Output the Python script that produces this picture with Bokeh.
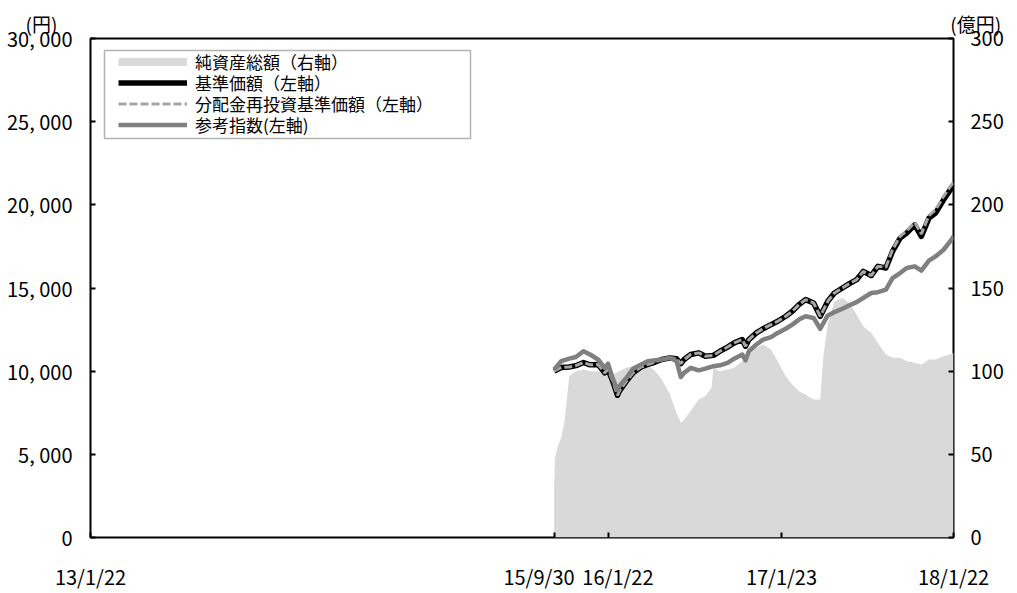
import pandas as pd
from bokeh.plotting import figure
from bokeh.models import (Range1d, LinearAxis, FixedTicker, Legend, LegendItem, BoxAnnotation)
from bokeh.embed import file_html
from bokeh.resources import INLINE

# ---------------- data ----------------
line_dates = [
    "2015-09-30", "2015-10-15", "2015-11-01", "2015-11-15", "2015-12-01", "2015-12-15",
    "2016-01-01", "2016-01-15", "2016-01-22", "2016-02-01", "2016-02-11", "2016-02-15",
    "2016-03-01", "2016-03-15", "2016-04-01", "2016-04-15", "2016-05-01", "2016-05-15",
    "2016-06-01", "2016-06-15", "2016-06-24", "2016-07-01", "2016-07-15", "2016-08-01",
    "2016-08-15", "2016-09-01", "2016-09-15", "2016-10-01", "2016-10-15", "2016-11-01",
    "2016-11-08", "2016-11-15", "2016-12-01", "2016-12-15", "2017-01-01", "2017-01-15",
    "2017-02-01", "2017-02-15", "2017-03-01", "2017-03-15", "2017-04-01", "2017-04-15",
    "2017-05-01", "2017-05-15", "2017-06-01", "2017-06-15", "2017-07-01", "2017-07-15",
    "2017-08-01", "2017-08-15", "2017-09-01", "2017-09-15", "2017-10-01", "2017-10-15",
    "2017-11-01", "2017-11-15", "2017-12-01", "2017-12-15", "2018-01-01", "2018-01-15",
    "2018-01-22",
]
nav = [
    10000, 10220, 10250, 10330, 10520, 10380,
    10400, 9900, 10100, 9400, 8550, 8800,
    9400, 9900, 10250, 10400, 10550, 10700,
    10800, 10750, 10450, 10700, 11000, 11100,
    10900, 10950, 11200, 11450, 11700, 11900,
    11500, 11900, 12300, 12550, 12800, 13000,
    13300, 13600, 14000, 14300, 14100, 13300,
    14200, 14700, 15000, 15250, 15500, 16000,
    15750, 16300, 16200, 17200, 18000, 18300,
    18800, 18100, 19200, 19500, 20300, 20900,
    21100,
]
reinvest = [
    10000, 10220, 10250, 10330, 10520, 10380,
    10400, 9900, 10100, 9400, 8550, 8800,
    9400, 9900, 10250, 10400, 10550, 10700,
    10800, 10750, 10450, 10700, 11000, 11100,
    10900, 10950, 11200, 11450, 11700, 11900,
    11500, 11900, 12300, 12550, 12800, 13000,
    13300, 13600, 14000, 14300, 14100, 13300,
    14200, 14700, 15000, 15250, 15500, 16000,
    15750, 16300, 16250, 17300, 18100, 18450,
    18950, 18250, 19350, 19700, 20500, 21100,
    21350,
]
ref_index = [
    10100, 10600, 10750, 10850, 11200, 11000,
    10700, 10200, 10450, 9550, 8850, 9100,
    9600, 10150, 10400, 10600, 10650, 10700,
    10800, 10600, 9650, 9900, 10200, 10050,
    10150, 10300, 10350, 10500, 10750, 11000,
    10650, 11200, 11600, 11900, 12050, 12300,
    12550, 12800, 13100, 13300, 13200, 12550,
    13350, 13550, 13750, 13950, 14150, 14400,
    14700, 14750, 14900, 15600, 15900, 16200,
    16300, 16050, 16650, 16900, 17300, 17800,
    18100,
]

area_dates = [
    "2015-09-30", "2015-10-02", "2015-10-08", "2015-10-15", "2015-10-22", "2015-11-01",
    "2015-11-15", "2015-12-01", "2015-12-15", "2016-01-01", "2016-01-15", "2016-02-01",
    "2016-02-15", "2016-03-01", "2016-03-15", "2016-04-01", "2016-04-15", "2016-05-01",
    "2016-05-15", "2016-06-01", "2016-06-15", "2016-06-24", "2016-07-01", "2016-07-15",
    "2016-08-01", "2016-08-15", "2016-08-28", "2016-09-01", "2016-09-15", "2016-10-01",
    "2016-10-15", "2016-11-01", "2016-11-15", "2016-12-01", "2016-12-15", "2017-01-01",
    "2017-01-15", "2017-02-01", "2017-02-15", "2017-03-01", "2017-03-15", "2017-04-01",
    "2017-04-15", "2017-04-22", "2017-05-01", "2017-05-15", "2017-06-01", "2017-06-15",
    "2017-07-01", "2017-07-15", "2017-08-01", "2017-08-15", "2017-09-01", "2017-09-15",
    "2017-10-01", "2017-10-15", "2017-11-01", "2017-11-15", "2017-12-01", "2017-12-15",
    "2018-01-01", "2018-01-15", "2018-01-22",
]
net_assets = [
    30, 48, 55, 60, 70, 97,
    100, 101, 100, 100, 99, 98,
    100, 102, 103, 104, 104, 100,
    95, 86, 75, 69, 71, 76,
    83, 85, 90, 102, 100, 101,
    102, 106, 110, 114, 116, 113,
    106, 97, 92, 88, 86, 83,
    83, 110, 128, 142, 144, 141,
    134, 127, 123, 117, 110, 108,
    108, 106, 105, 104, 107, 107,
    109, 110, 111,
]

x_start, x_end = "2013-01-22", "2018-01-22"
x_tick_dates = ["2013-01-22", "2015-09-30", "2016-01-22", "2017-01-23", "2018-01-22"]
x_tick_labels = ["13/1/22", "15/9/30", "16/1/22", "17/1/23", "18/1/22"]
left_ticks = [0, 5000, 10000, 15000, 20000, 25000, 30000]
right_ticks = [0, 50, 100, 150, 200, 250, 300]
left_unit, right_unit = "(円)", "(億円)"
legend_labels = ["純資産総額（右軸）", "基準価額（左軸）", "分配金再投資基準価額（左軸）", "参考指数(左軸)"]

FONT = "Noto Sans CJK JP"


def ms(d):
    return int(pd.Timestamp(d).value // 10**6)


ld = pd.to_datetime(line_dates)
ad = pd.to_datetime(area_dates)

p = figure(width=1017, height=593, output_backend="svg", toolbar_location=None,
           x_axis_type=None, y_axis_type=None,
           x_range=Range1d(pd.Timestamp(x_start), pd.Timestamp(x_end)),
           y_range=Range1d(0, 30000),
           min_border_left=90, min_border_right=64, min_border_top=38, min_border_bottom=54)
p.extra_y_ranges = {"right": Range1d(0, 300)}
p.outline_line_color = "black"
p.outline_line_width = 2
p.background_fill_color = "white"
p.border_fill_color = "white"

# unit captions: one title line, left caption over the left axis, right caption over the right axis
p.title.text = left_unit + "\u3000" * 47 + right_unit
p.title.align = "left"
p.title.offset = -65
p.title.standoff = 4
p.title.text_font = FONT
p.title.text_font_size = "19px"
p.title.text_font_style = "normal"
p.title.text_color = "black"

# left axis
ya = LinearAxis(ticker=FixedTicker(ticks=left_ticks))
ya.major_label_overrides = {v: f"{v:,}".replace(",", ", ") for v in left_ticks}
ya.axis_line_color = None
ya.major_tick_in = 5
ya.major_tick_out = 0
ya.major_tick_line_width = 2
ya.minor_tick_line_color = None
ya.major_label_standoff = 18
ya.major_label_text_font = FONT
ya.major_label_text_font_size = "20px"
ya.major_label_text_color = "black"
p.add_layout(ya, "left")

# right axis
yr = LinearAxis(y_range_name="right", ticker=FixedTicker(ticks=right_ticks))
yr.axis_line_color = None
yr.major_tick_in = 5
yr.major_tick_out = 0
yr.major_tick_line_width = 2
yr.minor_tick_line_color = None
yr.major_label_standoff = 17
yr.major_label_text_font = FONT
yr.major_label_text_font_size = "20px"
yr.major_label_text_color = "black"
p.add_layout(yr, "right")

# bottom axis: tick marks only
xt = LinearAxis(ticker=FixedTicker(ticks=[ms(d) for d in x_tick_dates]))
xt.axis_line_color = None
xt.major_tick_in = 5
xt.major_tick_out = 0
xt.major_tick_line_width = 2
xt.minor_tick_line_color = None
xt.major_label_text_font_size = "0px"
xt.major_label_standoff = 0
xt.major_label_overrides = {ms(d): "" for d in x_tick_dates}
p.add_layout(xt, "below")

# bottom axis: labels (15/9/30 and 16/1/22 are nudged apart as in the original)
label_shift_days = [0, -32, 21, 0, 0]
label_pos = [ms(pd.Timestamp(d) + pd.Timedelta(days=s)) for d, s in zip(x_tick_dates, label_shift_days)]
xl = LinearAxis(ticker=FixedTicker(ticks=label_pos))
xl.axis_line_color = None
xl.major_tick_line_color = None
xl.minor_tick_line_color = None
xl.major_tick_in = 0
xl.major_tick_out = 0
xl.major_label_standoff = 24
xl.major_label_text_font = FONT
xl.major_label_text_font_size = "20px"
xl.major_label_text_color = "black"
xl.major_label_overrides = {pos: lab for pos, lab in zip(label_pos, x_tick_labels)}
p.add_layout(xl, "below")

# series
area = p.varea(x=ad, y1=0, y2=net_assets, fill_color="#D9D9D9", y_range_name="right")
r_nav = p.line(ld, nav, line_color="black", line_width=5.5, line_join="round")
r_re = p.line(ld, reinvest, line_color="#A6A6A6", line_width=3, line_dash="8 3")
r_idx = p.line(ld, ref_index, line_color="#808080", line_width=4.5, line_join="round")

# legend swatch for the area series (draws nothing in the plot)
area_proxy = p.line(x=ad[:1], y=[float("nan")], line_color="#D9D9D9", line_width=8,
                    y_range_name="right")

# legend: a framed box with one row per series (rows 21 px apart)
legend_box = BoxAnnotation(left=14, right=380, top=487, bottom=399,
                           left_units="screen", right_units="screen",
                           top_units="screen", bottom_units="screen",
                           fill_color="white", fill_alpha=1,
                           line_color="black", line_width=1.5)
p.add_layout(legend_box)

legend_renderers = [area_proxy, r_nav, r_re, r_idx]
row_bottoms = [463, 442, 421, 400]
for lab, rend, yb in zip(legend_labels, legend_renderers, row_bottoms):
    lg = Legend(items=[LegendItem(label=lab, renderers=[rend])], location=(28, yb))
    lg.margin = 0
    lg.padding = 0
    lg.spacing = 0
    lg.glyph_width = 69
    lg.glyph_height = 21
    lg.label_height = 21
    lg.label_standoff = 8
    lg.label_text_font = FONT
    lg.label_text_font_size = "17px"
    lg.label_text_color = "black"
    lg.border_line_color = None
    lg.background_fill_alpha = 0
    p.add_layout(lg)

open("out.html", "w").write(file_html(p, INLINE))
